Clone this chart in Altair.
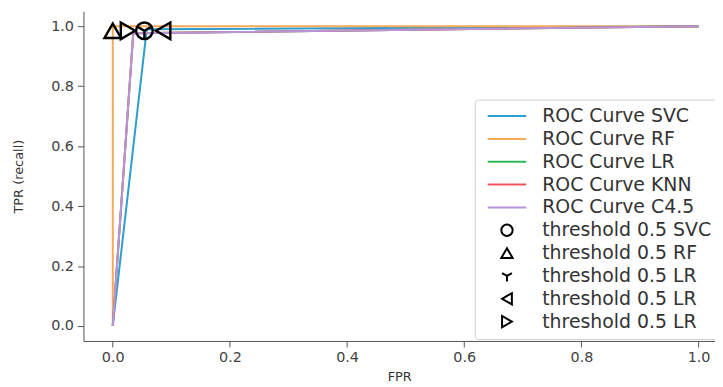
import altair as alt
import pandas as pd

# ROC curves
roc_names = ["ROC Curve SVC", "ROC Curve RF", "ROC Curve LR", "ROC Curve KNN", "ROC Curve C4.5"]
roc_colors = ["#2b9fd0", "#f5a95a", "#2db85a", "#ef5560", "#b894d8"]
roc_fpr = [
    [0.0, 0.058, 1.0],   # SVC
    [0.0, 0.0, 1.0],     # RF
    [0.0, 0.035, 1.0],   # LR
    [0.0, 0.035, 1.0],   # KNN
    [0.0, 0.035, 1.0],   # C4.5
]
roc_tpr = [
    [0.0, 0.99, 1.0],
    [0.0, 1.0, 1.0],
    [0.0, 0.977, 1.0],
    [0.0, 0.977, 1.0],
    [0.0, 0.977, 1.0],
]

# threshold 0.5 markers
thr_names = ["threshold 0.5 SVC", "threshold 0.5 RF", "threshold 0.5 LR",
             "threshold 0.5 LR", "threshold 0.5 LR"]
thr_fpr = [0.054, 0.0, 0.054, 0.086, 0.026]
thr_tpr = [0.985, 0.985, 0.985, 0.985, 0.985]
y_path = "M0,0L0,1M0,0L-0.87,-0.5M0,0L0.87,-0.5"
thr_shapes = ["circle", "triangle-up", y_path, "triangle-left", "triangle-right"]
line_symbol = "M-3.4,0L3.4,0"

x_ticks = [0.0, 0.2, 0.4, 0.6, 0.8, 1.0]
y_ticks = [0.0, 0.2, 0.4, 0.6, 0.8, 1.0]

line_rows = []
for i, (fx, ty) in enumerate(zip(roc_fpr, roc_tpr)):
    for j, (a, b) in enumerate(zip(fx, ty)):
        line_rows.append({"key": i, "fpr": a, "tpr": b, "ord": j})
lines_df = pd.DataFrame(line_rows)

pt_rows = [{"key": 5 + i, "fpr": a, "tpr": b} for i, (a, b) in enumerate(zip(thr_fpr, thr_tpr))]
pts_df = pd.DataFrame(pt_rows)

all_labels = roc_names + thr_names
keys = list(range(len(all_labels)))
label_expr = "[" + ",".join("'" + s + "'" for s in all_labels) + "][datum.value]"

legend = alt.Legend(
    title=None, orient="none", legendX=394, legendY=89,
    labelExpr=label_expr, labelFontSize=19, labelColor="#333333", labelFont="DejaVu Sans",
    labelLimit=300, labelOffset=26, rowPadding=2, padding=7, symbolStrokeWidth=2,
    symbolSize=130, symbolOffset=16, gridAlign="all",
    strokeColor="#d0d0d0", fillColor="white", cornerRadius=3,
)

color_scale = alt.Scale(domain=keys, range=roc_colors + ["black"] * 5)
shape_scale = alt.Scale(domain=keys, range=[line_symbol] * 5 + thr_shapes)

xs = alt.X("fpr:Q", scale=alt.Scale(domain=[-0.05, 1.028], nice=False, zero=False),
           axis=alt.Axis(values=x_ticks, format=".1f", title="FPR"))
ys = alt.Y("tpr:Q", scale=alt.Scale(domain=[-0.05, 1.05], nice=False, zero=False),
           axis=alt.Axis(values=y_ticks, format=".1f", title="TPR (recall)"))

lines = alt.Chart(lines_df).mark_line(strokeWidth=2).encode(
    x=xs, y=ys,
    color=alt.Color("key:N", scale=color_scale, legend=legend),
    order="ord:Q",
)

points = alt.Chart(pts_df).mark_point(filled=False, strokeWidth=2.4, opacity=1, size=280).encode(
    x=xs, y=ys,
    color=alt.Color("key:N", scale=color_scale, legend=legend),
    shape=alt.Shape("key:N", scale=shape_scale, legend=legend),
)

chart = alt.layer(lines, points).properties(
    width=636, height=332,
    autosize=alt.AutoSizeParams(type="none"),
    padding={"left": 76, "top": 2, "right": 0, "bottom": 42},
).configure_view(stroke=None).configure_axis(
    grid=False, domainColor="#555555", tickColor="#555555", tickSize=6,
    labelFont="DejaVu Sans", labelFontSize=14.5, labelColor="#444444",
    titleFont="DejaVu Sans", titleFontSize=13, titleFontWeight="normal", titleColor="#333333",
    labelPadding=4,
).configure_axisX(titlePadding=6).configure_axisY(titlePadding=25)

chart.save("out.html", embed_options={"renderer": "svg", "actions": False})
